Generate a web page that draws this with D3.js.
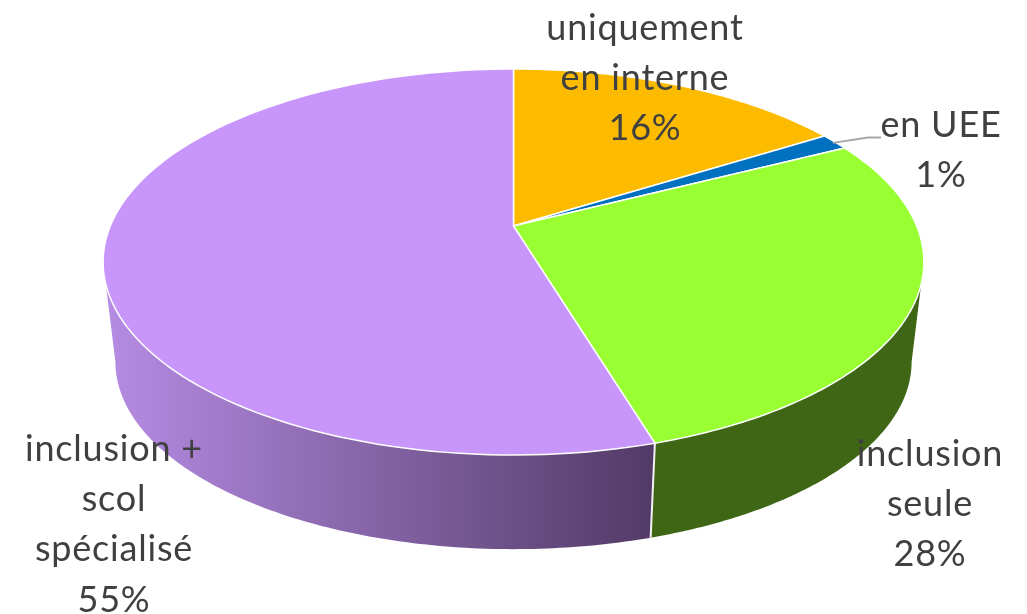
<!DOCTYPE html>
<html><head><meta charset="utf-8">
<script src="https://cdnjs.cloudflare.com/ajax/libs/d3/7.8.5/d3.min.js"></script>
<style>html,body{margin:0;padding:0;background:#fff;overflow:hidden}svg{display:block;filter:blur(0.45px)}
text{font-family:Lato,"Open Sans",sans-serif;fill:#404040;text-anchor:middle;letter-spacing:0.8px}</style>
</head><body><svg id="c" width="1027" height="614"></svg>
<script>
// Data
const categories = ["uniquement en interne", "en UEE", "inclusion seule", "inclusion + scol spécialisé"];
const shares = [16.1, 1.4, 27.85, 54.65];
const labelLines = [["uniquement", "en interne"], ["en UEE"], ["inclusion", "seule"], ["inclusion +", "scol", "spécialisé"]];
const topColors = ["#FDBB00", "#0070C0", "#99FF33", "#C896FB"];

// Layout
const W = 1027, H = 614;
const apex = {x: 513.5, y: 226};
const persp = 0.1865, scaleU = 403.2, scaleV = 186.3;
const floorScale = 0.97, floorDrop = 101;
const fontSize = 36, lineGap = 50.2;
const labelAnchors = [{x: 645, y: 40}, {x: 941, y: 137}, {x: 930, y: 466}, {x: 114, y: 461}];

const svg = d3.select("#c");
const fmt = d3.format(".0f");
const pieGen = d3.pie().sort(null).startAngle(0).endAngle(2 * Math.PI);
const arcs = pieGen(shares);

// Tilted disc: a projective image of the unit circle
const sx = d3.scaleLinear().domain([0, 1]).range([apex.x, apex.x + scaleU]);
const sy = d3.scaleLinear().domain([0, 1]).range([apex.y, apex.y - scaleV]);
const rim = (a, s = 1, drop = 0) => {
  const w = 1 + persp * Math.cos(a);
  const x = sx(Math.sin(a) / w), y = sy(Math.cos(a) / w);
  return [apex.x + s * (x - apex.x), apex.y + drop + s * (y - apex.y)];
};
const sweep = (a0, a1, s, drop) => d3.range(0, 121).map(i => rim(a0 + (a1 - a0) * i / 120, s, drop));
const line = d3.line();

const silR = Math.acos(-persp), silL = 2 * Math.PI - silR;

const defs = svg.append("defs");
const grad = defs.append("linearGradient").attr("id", "sidePurple").attr("gradientUnits", "userSpaceOnUse")
  .attr("x1", 104).attr("x2", 654).attr("y1", 0).attr("y2", 0);
grad.append("stop").attr("offset", 0).attr("stop-color", "#B68CE4");
grad.append("stop").attr("offset", 1).attr("stop-color", "#523A66");

const sideFill = ["none", "none", "#3F6614", "url(#sidePurple)"];

// Wall of the visible front half
const walls = svg.append("g");
arcs.forEach((d, i) => {
  const a0 = Math.max(d.startAngle, silR), a1 = Math.min(d.endAngle, silL);
  if (a1 <= a0) return;
  const pts = sweep(a0, a1, 1, 0).concat(sweep(a1, a0, floorScale, floorDrop));
  walls.append("path").attr("d", line(pts) + "Z").attr("fill", sideFill[i])
    .attr("stroke", "none");
});
// Edge between the two wall faces
const seam = arcs[2].endAngle;
walls.append("path").attr("d", line([rim(seam), rim(seam, floorScale, floorDrop)]))
  .attr("stroke", "#F4F1F6").attr("stroke-width", 2).attr("fill", "none");

// Top face
svg.append("g").selectAll("path").data(arcs).join("path")
  .attr("d", d => line([[apex.x, apex.y]].concat(sweep(d.startAngle, d.endAngle, 1, 0))) + "Z")
  .attr("fill", (d, i) => topColors[i])
  .attr("stroke", "#fff").attr("stroke-width", 1.5).attr("stroke-linejoin", "round");

// Leader line for the small slice
const mid = (arcs[1].startAngle + arcs[1].endAngle) / 2;
const [lx, ly] = rim(mid);
svg.append("path").attr("d", line([[lx - 2, ly + 1], [868, 137.5], [881, 137.5]]))
  .attr("fill", "none").attr("stroke", "#A6A6A6").attr("stroke-width", 1.8);

// Labels
const labels = svg.append("g").attr("font-size", fontSize);
arcs.forEach((d, i) => {
  const lines = labelLines[i].concat(fmt(shares[i]) + "%");
  lines.forEach((t, j) => {
    labels.append("text").attr("x", labelAnchors[i].x).attr("y", labelAnchors[i].y + j * lineGap).text(t);
  });
});
</script></body></html>
